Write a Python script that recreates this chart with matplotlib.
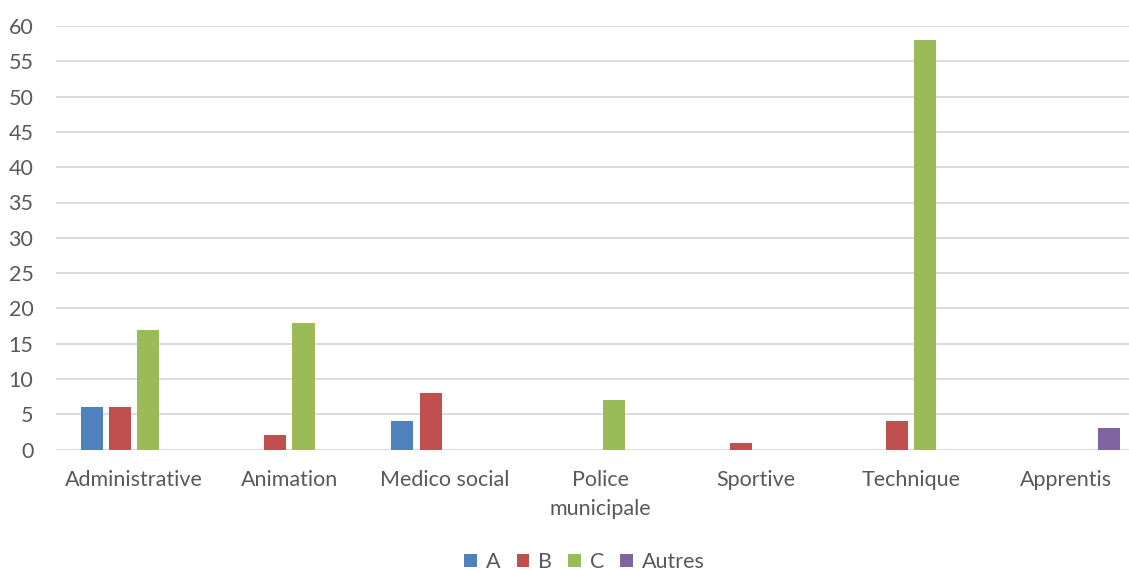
import numpy as np
import matplotlib.pyplot as plt

categories = ["Administrative", "Animation", "Medico social", "Police\nmunicipale",
              "Sportive", "Technique", "Apprentis"]
series_names = ["A", "B", "C", "Autres"]
values_a = [6, 0, 4, 0, 0, 0, 0]
values_b = [6, 2, 8, 0, 1, 4, 0]
values_c = [17, 18, 0, 7, 0, 58, 0]
values_autres = [0, 0, 0, 0, 0, 0, 3]
colors = ["#4F81BD", "#C0504D", "#9BBB59", "#8064A2"]

plt.rcParams['font.family'] = ['Lato', 'DejaVu Sans']
text_color = "#595959"
fs = 15.5

fig = plt.figure(figsize=(11.29, 5.70), dpi=100)
# plot area runs past the right edge of the picture, as in the reference
left_px, right_px, top_px, bottom_px = 56.3, 1144.0, 26.0, 449.6
ax = fig.add_axes([left_px / 1129, (570 - bottom_px) / 570,
                   (right_px - left_px) / 1129, (bottom_px - top_px) / 570])

x = np.arange(len(categories))
step = 0.182
width = 0.142
all_values = [values_a, values_b, values_c, values_autres]
for i, (name, vals, col) in enumerate(zip(series_names, all_values, colors)):
    ax.bar(x + (i - 1.5) * step, vals, width=width, color=col, label=name, zorder=3)

ax.set_xlim(-0.5, len(categories) - 0.5)
ax.set_ylim(0, 60)
ax.set_yticks(range(0, 61, 5))
ax.set_xticks(x)
ax.set_xticklabels(categories, fontsize=fs, color=text_color, linespacing=1.55)
ax.tick_params(axis='y', labelsize=fs, labelcolor=text_color, length=0, pad=16.5)
ax.tick_params(axis='x', length=0, pad=15)
ax.grid(axis='y', color="#D9D9D9", linewidth=1.3, zorder=0)
for s in ax.spines.values():
    s.set_visible(False)

# legend sits a little right of the figure centre in the reference
fig.legend(loc='center', bbox_to_anchor=(584.5 / 1129, 1 - 562 / 570), ncol=4, frameon=False,
           fontsize=fs, labelcolor=text_color, handlelength=0.6, handleheight=0.6,
           handletextpad=0.4, columnspacing=0.75)

fig.savefig("out.png", dpi=100)
